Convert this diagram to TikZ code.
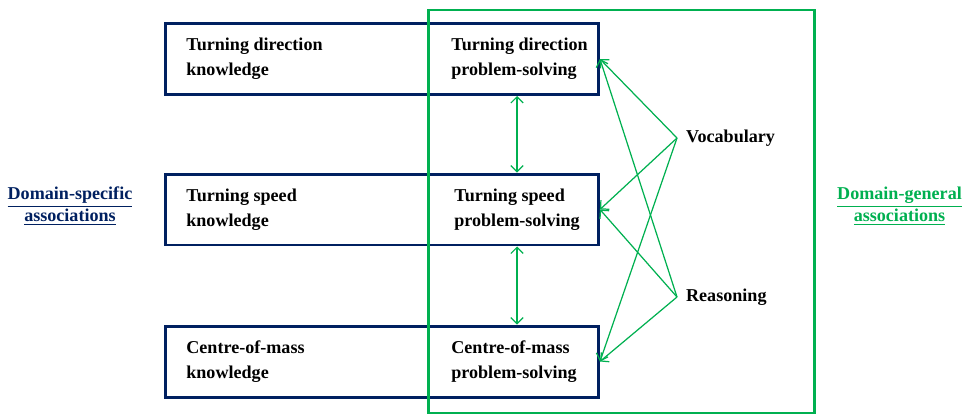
\documentclass[tikz,border=0pt]{standalone}
\usepackage{fontspec}
\setmainfont{Liberation Serif}
\usetikzlibrary{arrows.meta}
\definecolor{navy}{RGB}{0,32,96}
\definecolor{grn}{RGB}{0,176,80}
\begin{document}
\begin{tikzpicture}[x=0.02cm, y=-0.02cm,
        task/.style={draw=navy, line width=1.7pt, minimum width=8.66cm,
                minimum height=1.42cm, inner sep=0pt},
        lab/.style={font=\fontsize{10.3}{14.2}\selectfont\bfseries,
                align=left, anchor=west, inner sep=0pt},
        src/.style={font=\fontsize{10.3}{12}\selectfont\bfseries,
                anchor=west, inner xsep=5pt},
        side/.style={font=\fontsize{10.3}{12.5}\selectfont\bfseries, align=center},
        link/.style={draw=grn, line width=0.7pt,
                -{Straight Barb[length=3.5pt,width=7pt]}},
        both/.style={link, {Straight Barb[length=3.5pt,width=7pt]}-{Straight Barb[length=3.5pt,width=7pt]}}
    ]
    \useasboundingbox (0,0) rectangle (966,417);
    \def\ya{59}
    \def\yb{209.5}
    \def\yc{361.5}

    % three task rows
    \node[task] (dirbox) at (382,\ya) {};
    \node[task] (spdbox) at (382,\yb) {};
    \node[task] (combox) at (382,\yc) {};

    \node[lab] (dirkn) at (186,\ya) {Turning direction\\knowledge};
    \node[lab] (spdkn) at (186,\yb) {Turning speed\\knowledge};
    \node[lab] (comkn) at (186,\yc) {Centre-of-mass\\knowledge};

    \node[lab] (dirps) at (451,\ya) {Turning direction\\problem-solving};
    \node[lab] (spdps) at (454,\yb) {Turning speed\\problem-solving};
    \node[lab] (comps) at (451,\yc) {Centre-of-mass\\problem-solving};

    % domain-general frame
    \draw[grn, line width=1.5pt] (428.5,10) rectangle (814.5,413);

    \node[src] (voc) at (677,138) {Vocabulary};
    \node[src] (rea) at (677,297) {Reasoning};

    \node[side, text=navy] (dspec) at (70,206)
        {\underline{Domain-specific}\\\underline{associations}};
    \node[side, text=grn] (dgen) at (899.5,206)
        {\underline{Domain-general}\\\underline{associations}};

    % links between problem-solving tasks
    \coordinate (mid) at (517,0);
    \draw[both] (dirbox.south -| mid) -- (spdbox.north -| mid);
    \draw[both] (spdbox.south -| mid) -- (combox.north -| mid);

    \foreach \s in {voc,rea} {
        \foreach \t in {dirbox,spdbox,combox} {
            \draw[link] (\s.west) -- (\t.east);
        }
    }
\end{tikzpicture}
\end{document}
